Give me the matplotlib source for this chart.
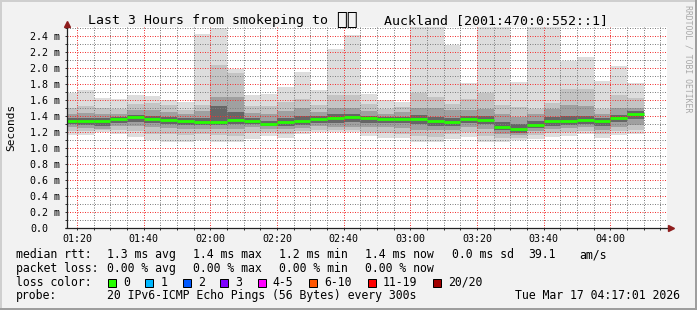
import matplotlib
matplotlib.use("Agg")
import matplotlib.pyplot as plt
from matplotlib.patches import Rectangle
import numpy as np
import warnings
warnings.filterwarnings("ignore")

plt.rcParams['font.family'] = ['DejaVu Sans Mono', 'DejaVu Sans', 'Noto Sans', 'Noto Sans CJK SC']

W, H, DPI = 697, 310, 100

# ---------------- text ----------------
title_left = "Last 3 Hours from smokeping to"
title_flag = "\U0001F1F3\U0001F1FF"
title_right = "Auckland [2001:470:0:552::1]"
y_label = "Seconds"
watermark = "RRDTOOL / TOBI OETIKER"

# ---------------- data (5-minute steps, values in ms) ----------------
step_times = ["01:15", "01:20", "01:25", "01:30", "01:35", "01:40", "01:45", "01:50", "01:55",
              "02:00", "02:05", "02:10", "02:15", "02:20", "02:25", "02:30", "02:35", "02:40",
              "02:45", "02:50", "02:55", "03:00", "03:05", "03:10", "03:15", "03:20", "03:25",
              "03:30", "03:35", "03:40", "03:45", "03:50", "03:55", "04:00", "04:05"]

rtt_max = [1.69, 1.72, 1.62, 1.61, 1.66, 1.65, 1.60, 1.57, 2.42, 2.50, 1.98, 1.66, 1.67, 1.76,
           1.95, 1.72, 2.24, 2.41, 1.67, 1.60, 1.57, 2.60, 2.60, 2.28, 1.81, 2.60, 2.60, 1.82,
           2.60, 2.60, 2.09, 2.14, 1.84, 2.02, 1.81]
rtt_hi2 = [1.50, 1.52, 1.50, 1.49, 1.55, 1.56, 1.53, 1.48, 1.54, 2.03, 1.93, 1.52, 1.52, 1.57,
           1.61, 1.54, 1.66, 1.66, 1.55, 1.49, 1.51, 1.68, 1.64, 1.55, 1.61, 1.68, 1.54, 1.51,
           1.49, 1.56, 1.74, 1.74, 1.49, 1.66, 1.62]
rtt_hi3 = [1.43, 1.44, 1.43, 1.42, 1.47, 1.48, 1.45, 1.42, 1.46, 1.64, 1.64, 1.44, 1.42, 1.46,
           1.50, 1.45, 1.50, 1.50, 1.46, 1.43, 1.45, 1.50, 1.50, 1.47, 1.47, 1.49, 1.43, 1.39,
           1.43, 1.49, 1.54, 1.52, 1.43, 1.50, 1.50]
rtt_hi4 = [1.38, 1.38, 1.38, 1.39, 1.41, 1.40, 1.39, 1.37, 1.38, 1.52, 1.45, 1.38, 1.34, 1.37,
           1.40, 1.40, 1.42, 1.43, 1.40, 1.39, 1.39, 1.41, 1.39, 1.37, 1.40, 1.40, 1.33, 1.30,
           1.34, 1.39, 1.40, 1.40, 1.38, 1.41, 1.46]
rtt_median = [1.340, 1.340, 1.340, 1.366, 1.387, 1.366, 1.353, 1.340, 1.328, 1.328, 1.353,
              1.340, 1.303, 1.328, 1.340, 1.366, 1.378, 1.391, 1.375, 1.366, 1.366, 1.366,
              1.340, 1.328, 1.366, 1.353, 1.262, 1.233, 1.291, 1.340, 1.340, 1.353, 1.340,
              1.378, 1.428]
rtt_lo4 = [1.30, 1.29, 1.27, 1.31, 1.33, 1.31, 1.30, 1.29, 1.29, 1.29, 1.30, 1.30, 1.27, 1.28,
           1.29, 1.31, 1.31, 1.32, 1.31, 1.31, 1.31, 1.30, 1.28, 1.28, 1.31, 1.30, 1.22, 1.19,
           1.25, 1.28, 1.29, 1.30, 1.27, 1.32, 1.36]
rtt_lo3 = [1.26, 1.25, 1.24, 1.27, 1.27, 1.26, 1.25, 1.24, 1.24, 1.24, 1.24, 1.26, 1.24, 1.24,
           1.25, 1.27, 1.26, 1.26, 1.26, 1.26, 1.25, 1.23, 1.22, 1.23, 1.26, 1.24, 1.18, 1.16,
           1.21, 1.24, 1.25, 1.26, 1.22, 1.26, 1.29]
rtt_lo2 = [1.21, 1.21, 1.22, 1.22, 1.21, 1.18, 1.17, 1.16, 1.17, 1.16, 1.15, 1.19, 1.20, 1.18,
           1.21, 1.23, 1.23, 1.23, 1.20, 1.19, 1.18, 1.15, 1.14, 1.17, 1.20, 1.15, 1.12, 1.13,
           1.16, 1.19, 1.20, 1.21, 1.18, 1.21, 1.22]
rtt_min = [1.16, 1.16, 1.20, 1.17, 1.14, 1.10, 1.08, 1.08, 1.10, 1.08, 1.07, 1.11, 1.15, 1.12,
           1.17, 1.20, 1.20, 1.20, 1.15, 1.13, 1.13, 1.07, 1.07, 1.11, 1.14, 1.08, 1.07, 1.10,
           1.11, 1.14, 1.15, 1.17, 1.13, 1.16, 1.17]

x_tick_times = ["01:20", "01:40", "02:00", "02:20", "02:40", "03:00", "03:20", "03:40", "04:00"]
y_tick_values = [0.0, 0.2, 0.4, 0.6, 0.8, 1.0, 1.2, 1.4, 1.6, 1.8, 2.0, 2.2, 2.4]

rtt_label = "median rtt:"
rtt_stats = ["1.3 ms avg", "1.4 ms max", "1.2 ms min", "1.4 ms now", "0.0 ms sd"]
rtt_extra = ["39.1", "am/s"]
loss_label = "packet loss:"
loss_stats = ["0.00 % avg", "0.00 % max", "0.00 % min", "0.00 % now"]
color_label = "loss color:"
loss_names = ["0", "1", "2", "3", "4-5", "6-10", "11-19", "20/20"]
loss_colors = ["#26ff00", "#00b8ff", "#0059ff", "#7e00ff", "#ff00ff", "#ff5500", "#ff0000", "#a10000"]
probe_label = "probe:"
probe_text = "20 IPv6-ICMP Echo Pings (56 Bytes) every 300s"
timestamp = "Tue Mar 17 04:17:01 2026"
end_time = "04:17:01"

# ---------------- helpers ----------------
def to_min(s):
    parts = [int(p) for p in s.split(":")]
    m = parts[0] * 60 + parts[1]
    if len(parts) > 2:
        m += parts[2] / 60.0
    return m

def fx(x):
    return x / W

def fy(y):
    return 1.0 - y / H

BG = "#f2f2f2"
fig = plt.figure(figsize=(W / DPI, H / DPI), dpi=DPI, facecolor=BG)

# plot area: x 67..667 px, y 27..228.3 px
ax = fig.add_axes([fx(67), fy(228.3), 600 / W, 201.3 / H])
ax.set_facecolor("white")

t_end = to_min(end_time)
ax.set_xlim(t_end - 180, t_end)
ax.set_ylim(0, 2.508)

starts = np.array([to_min(t) for t in step_times], dtype=float)
step = 5.0

layers = [
    (rtt_min, rtt_max, "#dddddd"),
    (rtt_lo2, rtt_hi2, "#c4c4c4"),
    (rtt_lo3, rtt_hi3, "#a0a0a0"),
    (rtt_lo4, rtt_hi4, "#666666"),
]
for lo, hi, col in layers:
    lo = np.array(lo)
    hi = np.array(hi)
    ax.bar(starts, hi - lo, bottom=lo, width=step, align="edge", color=col,
           linewidth=0, antialiased=False, zorder=1)

ax.hlines(rtt_median, starts, starts + step, colors="#26ff00", linewidth=2.0, zorder=4)

# ticks / grid
xt = [to_min(t) for t in x_tick_times]
ax.set_xticks(xt)
ax.set_xticklabels(x_tick_times)
minor_x = [to_min(t) for t in step_times if to_min(t) not in xt and to_min(t) > t_end - 180]
minor_x += [to_min("04:10"), to_min("04:15")]
ax.set_xticks(minor_x, minor=True)

ylabels = ["0.0" if v == 0 else f"{v:.1f} m" for v in y_tick_values]
ax.set_yticks(y_tick_values)
ax.set_yticklabels(ylabels)
minor_y = [v + 0.1 for v in y_tick_values]
ax.set_yticks(minor_y, minor=True)

ax.set_axisbelow(False)
ax.grid(which="minor", color=(0.5, 0.5, 0.5, 0.36), linestyle=(0, (1, 1.5)), linewidth=0.72)
ax.grid(which="major", color=(0.95, 0.2, 0.2, 0.26), linestyle=(0, (1, 1.5)), linewidth=0.72)

for sp in ax.spines.values():
    sp.set_visible(False)

ax.tick_params(which="both", direction="out", length=1.5, width=0.72, color="#333333")
ax.tick_params(axis="x", which="major", labelsize=7.2, pad=2.5)
ax.tick_params(axis="y", which="major", labelsize=7.2, pad=25.0)
for lbl in ax.get_yticklabels():
    lbl.set_horizontalalignment("left")

# axes lines with arrows
axis_col = "#222222"
arrow_col = "#8f1d1d"
ax.plot([-0.004, 1.008], [0, 0], transform=ax.transAxes, color=axis_col, lw=0.9,
        clip_on=False, zorder=6, solid_capstyle="butt")
ax.plot([0, 0], [0, 1.012], transform=ax.transAxes, color=axis_col, lw=0.9,
        clip_on=False, zorder=6, solid_capstyle="butt")
ax.plot([1.0068], [0], marker=">", ms=4.2, color=arrow_col, mec=arrow_col,
        transform=ax.transAxes, clip_on=False, zorder=7)
ax.plot([0], [1.0165], marker="^", ms=4.2, color=arrow_col, mec=arrow_col,
        transform=ax.transAxes, clip_on=False, zorder=7)

# title
fig.text(fx(88.3), fy(24), title_left, fontsize=9.5, ha="left", va="baseline")
fig.text(fx(336), fy(25), title_flag, fontsize=13, ha="left", va="baseline")
fig.text(fx(384.3), fy(24), title_right, fontsize=9.5, ha="left", va="baseline")

# y label
fig.text(fx(10.8), fy(127), y_label, rotation=90, fontsize=8, ha="center", va="center")

# watermark
fig.text(fx(688), fy(5), watermark, rotation=270, fontsize=5.9, ha="center", va="top",
         color="#a8a8a8")

# legend
LF = 8.3
def ltext(x, base, s):
    fig.text(fx(x), fy(base), s, fontsize=LF, ha="left", va="baseline")

b1, b2, b3, b4 = 258.3, 272.0, 285.7, 299.4
ltext(16, b1, rtt_label)
for x, s in zip([107.3, 193.3, 279.3, 365.0, 451.7], rtt_stats):
    ltext(x, b1, s)
ltext(528.3, b1, rtt_extra[0])
ltext(579.3, b1, rtt_extra[1])

ltext(16, b2, loss_label)
for x, s in zip([107.3, 193.3, 279.3, 365.0], loss_stats):
    ltext(x, b2, s)

ltext(16, b3, color_label)
bx = 108.0
cw = 6.96
for name, col in zip(loss_names, loss_colors):
    fig.add_artist(Rectangle((fx(bx), fy(286.7)), 8 / W, 8 / H, transform=fig.transFigure,
                             facecolor=col, edgecolor="black", linewidth=0.72))
    ltext(bx + 15, b3, name)
    bx = bx + 15 + cw * len(name) + 15.5

ltext(16, b4, probe_label)
ltext(107.3, b4, probe_text)
fig.text(fx(680), fy(b4), timestamp, fontsize=LF, ha="right", va="baseline")

# frame borders
fig.add_artist(Rectangle((0, fy(2)), 1, 2 / H, transform=fig.transFigure,
                         facecolor="#cfcfcf", edgecolor="none"))
fig.add_artist(Rectangle((0, 0), 2 / W, 1, transform=fig.transFigure,
                         facecolor="#cfcfcf", edgecolor="none"))
fig.add_artist(Rectangle((0, 0), 1, 2 / H, transform=fig.transFigure,
                         facecolor="#9e9e9e", edgecolor="none"))
fig.add_artist(Rectangle((fx(695), 0), 2 / W, 1, transform=fig.transFigure,
                         facecolor="#9e9e9e", edgecolor="none"))

fig.savefig("out.png", dpi=DPI, facecolor=BG)
